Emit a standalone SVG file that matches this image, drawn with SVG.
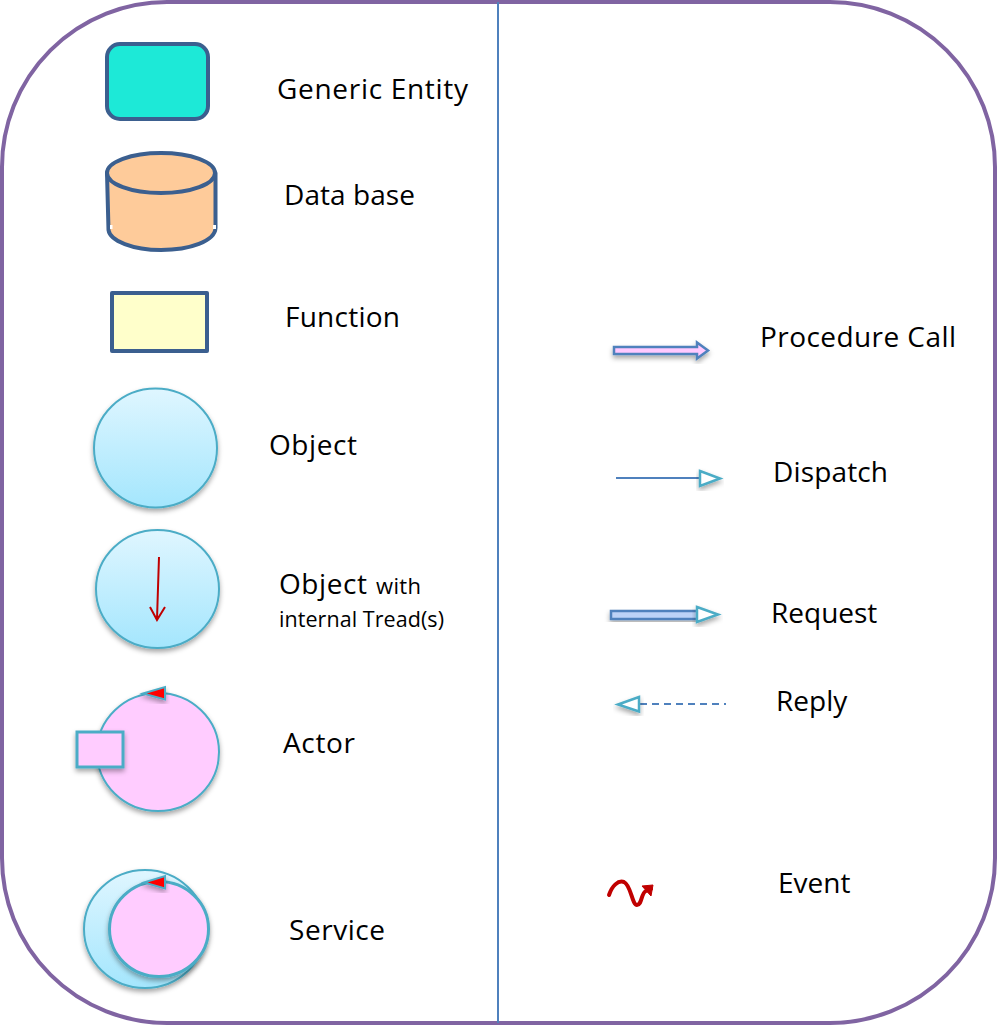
<svg xmlns="http://www.w3.org/2000/svg" width="997" height="1025" viewBox="0 0 997 1025">
<style>
text{font-family:"Open Sans","Noto Sans","Liberation Sans",sans-serif;font-size:28px;fill:#000}
.b{stroke:#3b5f8f;stroke-width:4;stroke-linejoin:round}
.t{stroke:#4bacc6;stroke-width:2}
.t3{stroke:#4bacc6;stroke-width:3}
.r{fill:#ff0000;stroke:#4bacc6;stroke-width:2}
.h{fill:#fff;stroke:#4bacc6;stroke-width:2.5}
.s{filter:url(#sh)}
</style>
<defs>
<linearGradient id="blue" x1="0" y1="0" x2="0" y2="1"><stop offset="0" stop-color="#dff6ff"/><stop offset="1" stop-color="#a4e6fd"/></linearGradient>
<filter id="sh" x="-20%" y="-20%" width="140%" height="150%"><feDropShadow dx="0" dy="3" stdDeviation="2.5" flood-color="#000" flood-opacity="0.35"/></filter>
</defs>
<rect id="frame" x="2" y="2" width="993" height="1021" rx="165" ry="165" fill="#fff" stroke="#8064a2" stroke-width="4"/>
<g id="connectors">
<line id="divider" x1="498" y1="2" x2="498" y2="1023" stroke="#4f81bd" stroke-width="2"/>
<g id="procedure-call" class="s"><path d="M614 347H697V342.500L708 350.500L697 358.500V354H614Z" fill="#ffc9ff" stroke="#4f81bd" stroke-width="2.500"/></g>
<g id="dispatch"><line x1="616" y1="478" x2="700" y2="478" stroke="#4f81bd" stroke-width="2"/><path class="h s" d="M700 471L720 478.500L700 486Z"/></g>
<g id="request"><rect class="s" x="611" y="611" width="87" height="8" fill="#bcd2f7" stroke="#4f81bd" stroke-width="2.500"/><path class="h s" d="M697 607L718 614.500L697 622Z"/></g>
<g id="reply"><line x1="640" y1="704" x2="726" y2="704" stroke="#4f81bd" stroke-width="2" stroke-dasharray="7 5"/><path class="h s" d="M639 697L618 704.500L639 711.500Z"/></g>
<path id="event" d="M609 895C612 886 618 880 624 882C631 885 632 905 637 905C642 905 641 893 646 891L651 889" fill="none" stroke="#c00000" stroke-width="4" stroke-linecap="round"/>
<path id="event-head" d="M642 886L653 885L651 896Z" fill="#c00000" stroke="#c00000" stroke-linejoin="round"/>
</g>
<g id="generic-entity"><rect class="b" x="107" y="44" width="101" height="75" rx="13" fill="#1de9d7"/><text x="277" y="99" textLength="191">Generic Entity</text></g>
<g id="data-base"><path class="b" d="M107 173L108.500 230C110 241 133 250 161 250C190 250 215 241 215.500 228L215.500 173Z" fill="#fecb9a"/><ellipse class="b" cx="161" cy="173" rx="54" ry="20" fill="#fecb9a"/><rect x="110" y="225" width="2.500" height="4" fill="#fff"/><rect x="213" y="225" width="3" height="4" fill="#fff"/><text x="284" y="205" textLength="131">Data base</text></g>
<g id="function"><rect class="b" x="112" y="293" width="95" height="58" fill="#ffffcb"/><text x="285" y="327" textLength="115">Function</text></g>
<g id="object"><ellipse class="t s" cx="155.500" cy="448" rx="61.500" ry="59.500" fill="url(#blue)"/><text x="269" y="455" textLength="88">Object</text></g>
<g id="object-threads"><ellipse class="t s" cx="157.500" cy="589" rx="61.500" ry="59" fill="url(#blue)"/><path d="M159 557L157 619M150 607L157 620L165 607" fill="none" stroke="#c00000" stroke-width="2"/><text x="279" y="594" textLength="88">Object</text><text x="376" y="594" style="font-size:22px" textLength="45">with</text><text x="279" y="627" style="font-size:21.500px" textLength="165">internal Tread(s)</text></g>
<g id="actor"><ellipse class="t s" cx="158" cy="752" rx="61" ry="59" fill="#ffccff"/><rect class="t3 s" x="77" y="732" width="46" height="35" fill="#ffccff"/><path class="r s" d="M143 693.500L165 687V699.500Z"/><text x="283" y="753" textLength="72">Actor</text></g>
<g id="service"><ellipse class="t s" cx="145" cy="929" rx="61" ry="59" fill="url(#blue)"/><ellipse class="t3 s" cx="159" cy="929" rx="49.500" ry="47.500" fill="#ffccff"/><path class="r s" d="M144 882.500L165 876V888.500Z"/><text x="289" y="940" textLength="96">Service</text></g>
<g id="labels"><text x="760" y="347" textLength="196">Procedure Call</text><text x="773" y="482" textLength="115">Dispatch</text><text x="771" y="623">Request</text><text x="776" y="711">Reply</text><text x="778" y="893">Event</text></g>
</svg>
